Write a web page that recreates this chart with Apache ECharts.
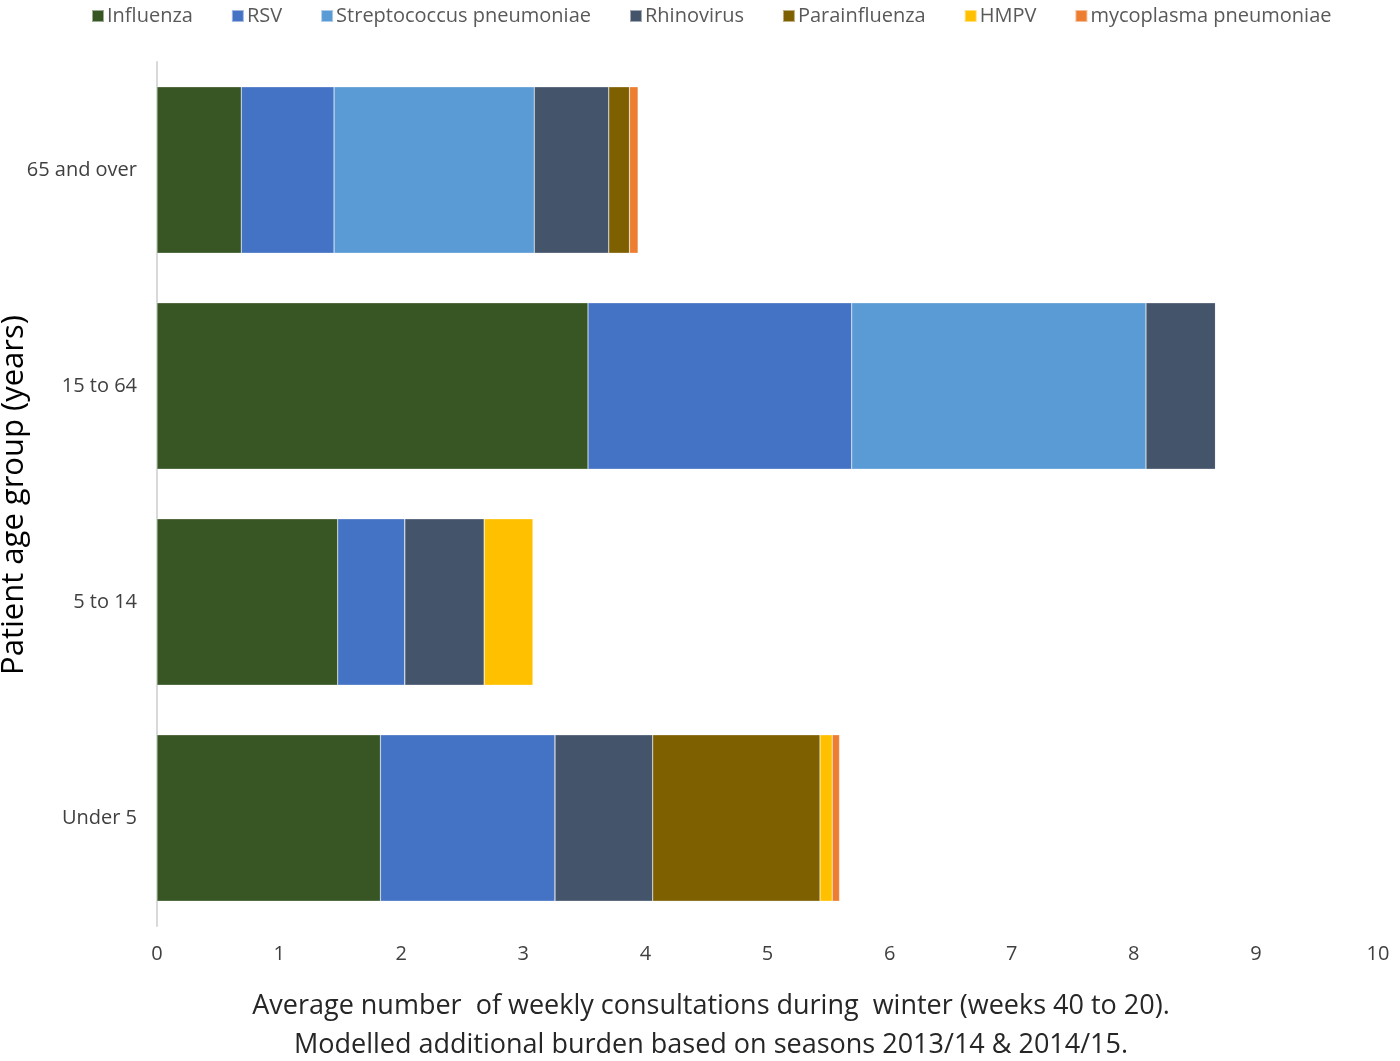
<!DOCTYPE html>
<html>
<head>
<meta charset="utf-8">
<script src="https://cdn.jsdelivr.net/npm/echarts@6/dist/echarts.min.js"></script>
<style>html,body{margin:0;padding:0;background:#fff;}#c{width:1400px;height:1061px;}</style>
</head>
<body>
<div id="c"></div>
<script>
const categories = ['Under 5', '5 to 14', '15 to 64', '65 and over'];
const seriesNames = ['Influenza', 'RSV', 'Streptococcus pneumoniae', 'Rhinovirus', 'Parainfluenza', 'HMPV', 'mycoplasma pneumoniae'];
const influenza = [1.83, 1.48, 3.53, 0.69];
const rsv = [1.43, 0.55, 2.16, 0.76];
const strep = [0, 0, 2.41, 1.64];
const rhino = [0.80, 0.65, 0.57, 0.61];
const parainfluenza = [1.37, 0, 0, 0.17];
const hmpv = [0.10, 0.40, 0, 0];
const mycoplasma = [0.06, 0, 0, 0.07];
const xTicks = [0, 1, 2, 3, 4, 5, 6, 7, 8, 9, 10];
const yTitle = 'Patient age group (years)';
const xTitle = 'Average number  of weekly consultations during  winter (weeks 40 to 20).\nModelled additional burden based on seasons 2013/14 & 2014/15.';

const colors = ['#375623', '#4472C4', '#5B9BD5', '#44546A', '#7F6000', '#FFC000', '#ED7D31'];
const values = [influenza, rsv, strep, rhino, parainfluenza, hmpv, mycoplasma];
const font = 'Open Sans';

const chart = echarts.init(document.getElementById('c'));
chart.setOption({
  animation: false,
  color: colors,
  legend: {
    top: 1, left: 86,
    itemWidth: 12, itemHeight: 12, itemGap: 38,
    icon: 'rect',
    textStyle: { fontFamily: font, fontSize: 20, color: '#595959', padding: [0, 0, 0, -2] },
    data: seriesNames
  },
  grid: { left: 157, right: 22, top: 62, bottom: 135, containLabel: false, outerBoundsMode: 'none' },
  xAxis: {
    type: 'value', min: xTicks[0], max: xTicks[xTicks.length - 1], interval: 1,
    axisLine: { show: false }, axisTick: { show: false }, splitLine: { show: false },
    axisLabel: { fontFamily: font, fontSize: 20, color: '#404040', margin: 18 }
  },
  yAxis: {
    type: 'category', data: categories,
    axisLine: { lineStyle: { color: '#d9d9d9', width: 2 } },
    axisTick: { lineStyle: { color: '#d9d9d9', width: 2 }, length: 7 },
    axisLabel: { fontFamily: font, fontSize: 20, color: '#404040', margin: 20 }
  },
  graphic: [{
    type: 'text', x: 14, y: 495, rotation: Math.PI / 2,
    style: { text: yTitle, fontFamily: font, fontSize: 31, fill: '#000', textAlign: 'center', textVerticalAlign: 'middle' }
  }],
  title: {
    text: xTitle,
    left: 706, top: 982, textAlign: 'center',
    textStyle: { fontFamily: font, fontSize: 27, fontWeight: 'normal', color: '#262626', lineHeight: 39 }
  },
  series: seriesNames.map((n, i) => ({
    name: n, type: 'bar', stack: 'total', data: values[i],
    barCategoryGap: '23%',
    itemStyle: { color: colors[i], borderColor: 'rgba(255,255,255,0.5)', borderWidth: 0.5 }
  }))
});
</script>
</body>
</html>
